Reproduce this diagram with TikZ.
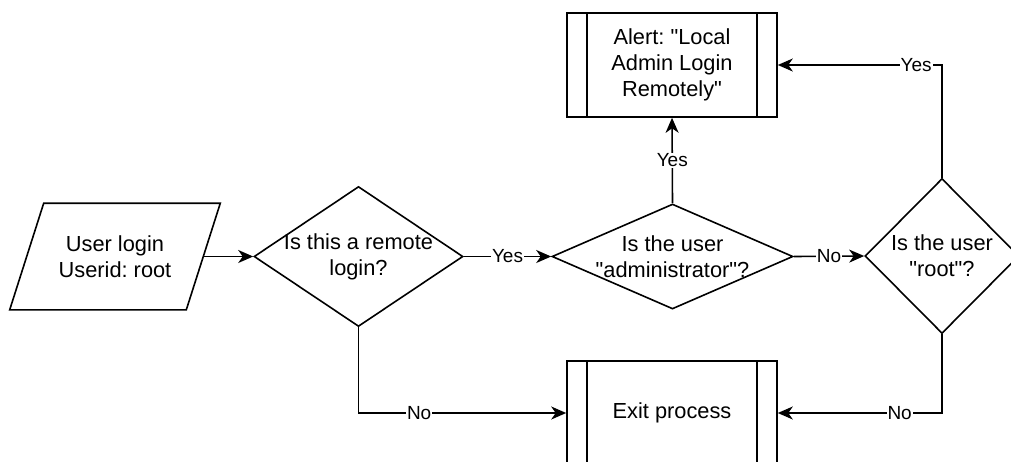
\documentclass[tikz,border=0pt]{standalone}
\usepackage{fontspec}
\setmainfont{Liberation Sans}
\usetikzlibrary{arrows.meta,shapes.geometric}
\newcommand{\sq}{\textquotedbl}
\begin{document}
\frenchspacing
\begin{tikzpicture}[x=1pt,y=-1pt,
  line width=1.6pt,
  box/.style={draw, rectangle, minimum width=210pt, minimum height=104pt, inner sep=0pt},
  dia/.style={draw, diamond, inner sep=0pt},
  parabox/.style={rectangle, minimum width=175pt, minimum height=105pt, inner sep=0pt},
  txt/.style={align=center, font=\fontsize{21.8}{26}\selectfont\frenchspacing, inner sep=0pt},
  lbl/.style={fill=white, inner sep=1pt, font=\fontsize{19}{22}\selectfont},
  arr/.style={-{Stealth[length=15pt,width=13pt,inset=4.5pt]}}]
\useasboundingbox (0,0) rectangle (1011,461);

% shapes
\node[parabox] (in) at (115,256.5) {};
\draw ([xshift=17pt]in.north west) -- ([xshift=17pt]in.north east)
  -- ([xshift=-17pt]in.south east) -- ([xshift=-17pt]in.south west) -- cycle;
\node[txt] (intxt) at (in) {User login\\Userid: root};

\node[dia, minimum width=209pt, minimum height=140pt] (d1) at (358.5,256.5) {};
\node[txt] (d1txt) at (d1) {Is this a remote\\login?};

\node[dia, minimum width=241pt, minimum height=105pt] (d2) at (672.5,256.5) {};
\node[txt] (d2txt) at (d2) {Is the user\\\sq administrator\sq ?};

\node[dia, minimum width=154pt, minimum height=155pt] (d3) at (942,256) {};
\node[txt] (d3txt) at (d3) {Is the user\\\sq root\sq ?};

\node[box] (al) at (672,65) {};
\draw ([xshift=21pt]al.north west) -- ([xshift=21pt]al.south west);
\draw ([xshift=-21pt]al.north east) -- ([xshift=-21pt]al.south east);
\node[txt] (altxt) at (al) {Alert: \sq Local\\Admin Login\\Remotely\sq};

\node[box] (ex) at (672,413) {};
\draw ([xshift=21pt]ex.north west) -- ([xshift=21pt]ex.south west);
\draw ([xshift=-21pt]ex.north east) -- ([xshift=-21pt]ex.south east);
\node[txt] (extxt) at (ex) {Exit process};

% connectors
\draw[arr] (in.east) -- (d1.west);
\draw[arr] (d1.east) -- node[lbl] {Yes} (d2.west);
\draw[arr] (d2.east) -- node[lbl] {No} (d3.west);
\draw[arr] (d2.north) -- node[lbl] {Yes} (al.south);
\draw[arr] (d3.north) |- node[lbl, pos=0.579] {Yes} (al.east);
\draw[arr] (d1.south) |- node[lbl, pos=0.646] {No} (ex.west);
\draw[arr] (d3.south) |- node[lbl, pos=0.629] {No} (ex.east);
\end{tikzpicture}
\end{document}
